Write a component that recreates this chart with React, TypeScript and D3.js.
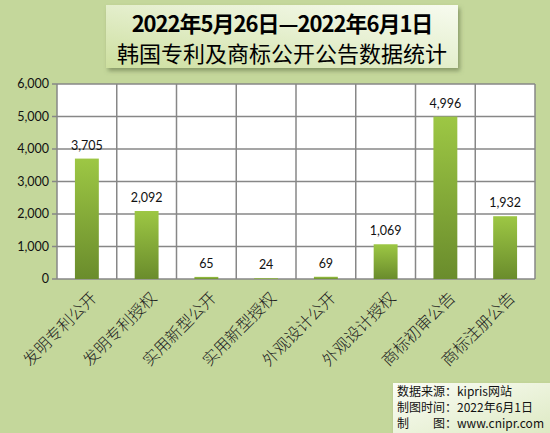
import * as d3 from "d3";

const categories = [
  "发明专利公开",
  "发明专利授权",
  "实用新型公开",
  "实用新型授权",
  "外观设计公开",
  "外观设计授权",
  "商标初审公告",
  "商标注册公告",
];
const counts = [3705, 2092, 65, 24, 69, 1069, 4996, 1932];
const yTicks = [0, 1000, 2000, 3000, 4000, 5000, 6000];

const titleLines = ["2022年5月26日—2022年6月1日", "韩国专利及商标公开公告数据统计"];
const sourceLines = ["数据来源：kipris网站", "制图时间：2022年6月1日", "制\u3000\u3000图：www.cnipr.com"];

const W = 550;
const H = 433;
const plot = { left: 57, right: 535, top: 84, bottom: 279 };
const CJK = "'Noto Sans CJK SC', sans-serif";
const NUM = "Lato, 'Noto Sans', sans-serif";

export default function App() {
  const x = d3
    .scaleBand<string>()
    .domain(categories)
    .range([plot.left, plot.right])
    .paddingInner(0.6)
    .paddingOuter(0.3);
  const grid = d3.scaleBand<string>().domain(categories).range([plot.left, plot.right]);
  const y = d3.scaleLinear().domain([0, 6000]).range([plot.bottom, plot.top]);
  const fmt = d3.format(",");

  return (
    <svg
      width={W}
      height={H}
      style={{ position: "absolute", left: 0, top: 0 }}
      xmlns="http://www.w3.org/2000/svg"
    >
      <defs>
        <linearGradient id="bar" x1="0" y1="0" x2="0" y2="1">
          <stop offset="0" stopColor="#9dc744" />
          <stop offset="1" stopColor="#6a8c2c" />
        </linearGradient>
        <linearGradient id="titleBg" x1="0" y1="1" x2="1" y2="0">
          <stop offset="0" stopColor="#cddf9f" />
          <stop offset="0.6" stopColor="#e8f1d4" />
          <stop offset="1" stopColor="#f7fbef" />
        </linearGradient>
        <linearGradient id="srcBg" x1="0" y1="0" x2="1" y2="1">
          <stop offset="0" stopColor="#fbfdf6" />
          <stop offset="1" stopColor="#dde9c2" />
        </linearGradient>
        <filter id="shadow" x="-10%" y="-10%" width="130%" height="140%">
          <feDropShadow dx="2" dy="3" stdDeviation="2" floodColor="#5a6640" floodOpacity="0.55" />
        </filter>
      </defs>

      <rect x={0} y={0} width={W} height={H} fill="#c4d79b" />

      {/* plot area */}
      <rect
        x={plot.left}
        y={plot.top}
        width={plot.right - plot.left}
        height={plot.bottom - plot.top}
        fill="#ffffff"
      />

      {/* horizontal grid */}
      {yTicks.map((t) => (
        <line
          key={"h" + t}
          x1={plot.left - 5}
          x2={plot.right}
          y1={y(t)}
          y2={y(t)}
          stroke="#878787"
          strokeWidth={1.5}
        />
      ))}
      {/* vertical grid */}
      {categories.map((c) => (
        <line
          key={"v" + c}
          x1={grid(c)!}
          x2={grid(c)!}
          y1={plot.top}
          y2={plot.bottom}
          stroke="#878787"
          strokeWidth={1.5}
        />
      ))}
      <line x1={plot.right} x2={plot.right} y1={plot.top} y2={plot.bottom} stroke="#878787" strokeWidth={1.5} />

      {/* bars */}
      {categories.map((c, i) => (
        <rect
          key={"b" + c}
          x={x(c)!}
          y={y(counts[i])}
          width={x.bandwidth()}
          height={y(0) - y(counts[i])}
          fill="url(#bar)"
        />
      ))}

      {/* y axis labels */}
      {yTicks.map((t) => (
        <text
          key={"yt" + t}
          x={49}
          y={y(t)}
          dy="0.35em"
          textAnchor="end"
          fontFamily={NUM}
          fontSize={12.5}
          fill="#111"
        >
          {fmt(t)}
        </text>
      ))}

      {/* value labels */}
      {categories.map((c, i) => (
        <text
          key={"vl" + c}
          x={x(c)! + x.bandwidth() / 2}
          y={y(counts[i]) - 9}
          textAnchor="middle"
          fontFamily={NUM}
          fontSize={12.5}
          fill="#111"
        >
          {fmt(counts[i])}
        </text>
      ))}

      {/* category labels */}
      {categories.map((c) => {
        const px = x(c)! + x.bandwidth() / 2 + 11;
        const py = 299;
        return (
          <text
            key={"xl" + c}
            transform={`translate(${px},${py}) rotate(-45)`}
            textAnchor="end"
            fontFamily={CJK}
            fontWeight={300}
            fontSize={16}
            fill="#222"
          >
            {c}
          </text>
        );
      })}

      {/* title */}
      <rect x={106} y={5} width={352} height={63} fill="url(#titleBg)" filter="url(#shadow)" />
      <text
        x={282}
        y={32}
        textAnchor="middle"
        fontFamily={CJK}
        fontWeight={700}
        fontSize={22}
        letterSpacing={-1}
        fill="#000"
      >
        {titleLines[0]}
      </text>
      <text x={282} y={62} textAnchor="middle" fontFamily={CJK} fontSize={22} fill="#000">
        {titleLines[1]}
      </text>

      {/* source note */}
      <rect x={393} y={383} width={160} height={52} fill="url(#srcBg)" filter="url(#shadow)" />
      {sourceLines.map((s, i) => (
        <text key={"s" + i} x={397} y={396 + i * 16} fontFamily={CJK} fontSize={12} fill="#111">
          {s}
        </text>
      ))}
    </svg>
  );
}
